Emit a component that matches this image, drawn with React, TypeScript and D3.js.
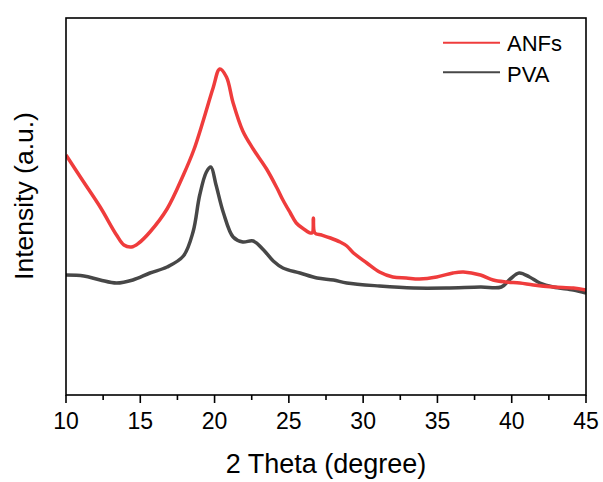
import React from "react";
import * as d3 from "d3";

// 2-theta positions and intensities (a.u.)
const anfTheta = [10.0, 11.1, 12.3, 13.4, 13.9, 14.4, 14.9, 15.65, 16.8, 17.9, 18.6, 19.25, 19.9, 20.35, 20.8, 21.25, 21.9, 22.6, 23.5, 24.2, 24.6, 25.1, 25.5, 26.0, 26.55, 26.65, 26.75, 27.2, 27.8, 28.45, 28.9, 29.35, 30.25, 31.1, 32.0, 32.9, 33.8, 34.95, 36.05, 36.75, 37.9, 38.75, 39.65, 40.55, 41.45, 42.8, 44.15, 45.0];
const anfValues = [240, 215, 188, 160, 150, 148, 152, 163, 186, 220, 245, 275, 307, 326, 318, 292, 264, 246, 226, 207, 195, 182, 172, 166, 162, 177, 162, 160, 157, 153, 149, 142, 132, 123, 118, 117, 116, 118, 122, 123, 120, 115, 113, 112, 110, 108, 107, 105];

const pvaTheta = [10.0, 11.2, 12.3, 13.4, 14.5, 15.65, 16.8, 17.9, 18.55, 19.0, 19.45, 19.75, 20.1, 20.6, 21.25, 21.9, 22.6, 23.3, 23.95, 24.6, 25.75, 26.9, 28.0, 28.9, 31.1, 33.4, 35.6, 37.9, 39.3, 39.9, 40.5, 41.2, 41.9, 42.8, 44.15, 45.0];
const pvaValues = [120, 119, 115, 112, 115, 122, 128, 139, 163, 200, 223, 228, 210, 182, 158, 153, 154, 145, 134, 127, 122, 117, 115, 112, 109, 107, 107, 108, 108, 116, 122, 118, 112, 108, 105, 102];

const seriesNames = ["ANFs", "PVA"];
const seriesColors = ["#ef3c3c", "#474747"];
const xTicks = [10, 15, 20, 25, 30, 35, 40, 45];
const xMinorTicks = [12.5, 17.5, 22.5, 27.5, 32.5, 37.5, 42.5];

const W = 603, H = 482;
const L = 66, R = 586, T = 18, B = 395;
const FONT = "'Liberation Sans', Arial, Helvetica, sans-serif";

export default function App() {
  const x = d3.scaleLinear().domain([10, 45]).range([L, R]);
  const y = d3.scaleLinear().domain([0, 377]).range([B, T]);
  const line = d3
    .line<[number, number]>()
    .x((d) => x(d[0]))
    .y((d) => y(d[1]))
    .curve(d3.curveCatmullRom.alpha(0.5));

  const anf = anfTheta.map((t, i) => [t, anfValues[i]] as [number, number]);
  const pva = pvaTheta.map((t, i) => [t, pvaValues[i]] as [number, number]);

  return (
    <svg
      width={W}
      height={H}
      style={{ position: "absolute", left: 0, top: 0, background: "#fff" }}
      fontFamily={FONT}
    >
      <rect x={0} y={0} width={W} height={H} fill="#fff" />
      <defs>
        <clipPath id="plot">
          <rect x={L} y={T} width={R - L} height={B - T} />
        </clipPath>
      </defs>
      <g clipPath="url(#plot)">
        <path d={line(pva) || ""} fill="none" stroke={seriesColors[1]} strokeWidth={3.5} strokeLinejoin="round" />
        <path d={line(anf) || ""} fill="none" stroke={seriesColors[0]} strokeWidth={3.5} strokeLinejoin="round" />
      </g>
      <rect x={L} y={T} width={R - L} height={B - T} fill="none" stroke="#000" strokeWidth={1.6} />
      {xTicks.map((t) => (
        <g key={"M" + t}>
          <line x1={x(t)} x2={x(t)} y1={B} y2={B + 8} stroke="#000" strokeWidth={1.6} />
          <text x={x(t)} y={429} textAnchor="middle" fontSize={23} fill="#000">
            {t}
          </text>
        </g>
      ))}
      {xMinorTicks.map((t) => (
        <line key={"m" + t} x1={x(t)} x2={x(t)} y1={B} y2={B + 5} stroke="#000" strokeWidth={1.6} />
      ))}
      <text x={(L + R) / 2} y={473} textAnchor="middle" fontSize={27} fill="#000">
        2 Theta (degree)
      </text>
      <text
        transform={`translate(33,196) rotate(-90)`}
        textAnchor="middle"
        fontSize={26.5}
        fill="#000"
      >
        Intensity (a.u.)
      </text>
      {seriesNames.map((n, i) => (
        <g key={n}>
          <line x1={443} x2={500} y1={42.7 + i * 29.6} y2={42.7 + i * 29.6} stroke={seriesColors[i]} strokeWidth={2} />
          <text x={507} y={51 + i * 30.5} fontSize={22} fill="#000">
            {n}
          </text>
        </g>
      ))}
    </svg>
  );
}
